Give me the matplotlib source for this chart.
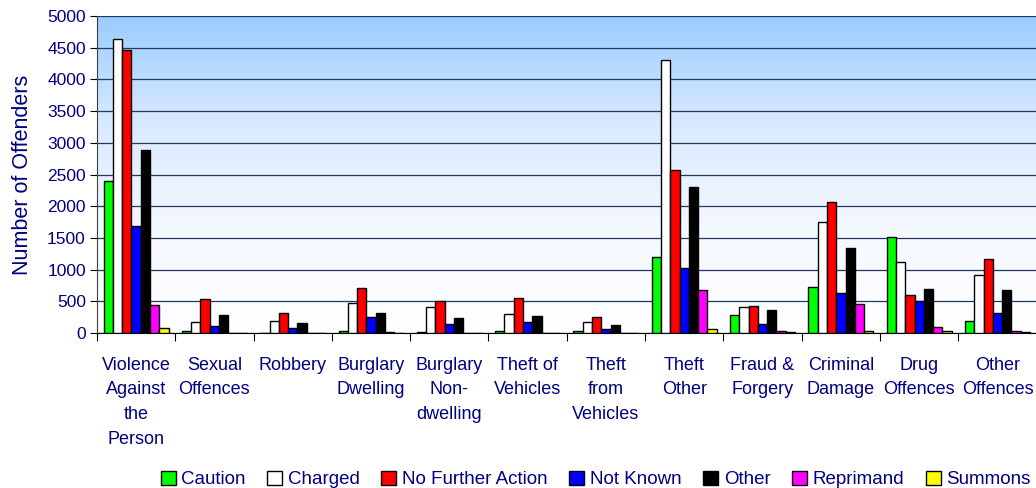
import numpy as np
import matplotlib
matplotlib.use('Agg')
import matplotlib.pyplot as plt
from matplotlib.colors import LinearSegmentedColormap

plt.rcParams['font.family'] = ['Liberation Sans', 'DejaVu Sans']

TEXT_COLOUR = '#000080'
GRID_COLOUR = '#1F3A60'

categories = ["Violence\nAgainst\nthe\nPerson", "Sexual\nOffences", "Robbery",
              "Burglary\nDwelling", "Burglary\nNon-\ndwelling", "Theft of\nVehicles",
              "Theft\nfrom\nVehicles", "Theft\nOther", "Fraud &\nForgery",
              "Criminal\nDamage", "Drug\nOffences", "Other\nOffences"]

series_names = ["Caution", "Charged", "No Further Action", "Not Known",
                "Other", "Reprimand", "Summons"]
series_colours = ['#00FF00', '#FFFFFF', '#FF0000', '#0000FF',
                  '#000000', '#FF00FF', '#FFFF00']

caution = [2390, 35, 0, 32, 20, 32, 25, 1200, 280, 730, 1515, 190]
charged = [4640, 170, 195, 468, 405, 295, 170, 4300, 415, 1750, 1115, 915]
no_further_action = [4460, 540, 310, 710, 505, 557, 247, 2570, 421, 2066, 594, 1167]
not_known = [1685, 110, 74, 247, 137, 169, 58, 1030, 142, 631, 505, 310]
other = [2880, 284, 162, 315, 241, 263, 126, 2300, 363, 1340, 694, 683]
reprimand = [437, 5, 0, 10, 5, 5, 5, 678, 32, 457, 90, 25]
summons = [72, 3, 0, 8, 3, 3, 3, 58, 16, 37, 32, 20]

all_series = [caution, charged, no_further_action, not_known, other, reprimand, summons]

fig = plt.figure(figsize=(10.36, 4.88), dpi=100)
ax = fig.add_axes([0.0936, 0.3176, 0.907, 0.6496])

# gradient background: light blue at the top fading to white
grad = np.linspace(0, 1, 256).reshape(-1, 1)
cmap = LinearSegmentedColormap.from_list('bg', ['#FFFFFF', '#F4F8FF', '#D8E9FF', '#99CCFF'])
ax.imshow(grad, aspect='auto', cmap=cmap, origin='lower',
          extent=[0, len(categories), 0, 5000], zorder=0)

n = len(all_series)
group = 0.83
bw = group / n
x = np.arange(len(categories)) + 0.5
for i, (vals, name, col) in enumerate(zip(all_series, series_names, series_colours)):
    offs = -group / 2 + bw * (i + 0.5)
    ax.bar(x + offs, vals, width=bw, color=col, edgecolor='black',
           linewidth=1.0, label=name, zorder=3)

ax.set_xlim(0, len(categories))
ax.set_ylim(0, 5000)
ax.set_yticks(np.arange(0, 5001, 500))
ax.yaxis.grid(True, color=GRID_COLOUR, linewidth=0.9, zorder=1)
ax.set_axisbelow(True)

ax.set_xticks(np.arange(0, len(categories) + 1))
ax.set_xticklabels([])
ax.set_xticks(x, minor=True)
ax.set_xticklabels(categories, minor=True, fontsize=13, color=TEXT_COLOUR,
                   linespacing=1.6, va='top')
ax.tick_params(axis='x', which='minor', length=0, pad=17)
ax.tick_params(axis='x', which='major', length=6, direction='out', color='black')
ax.tick_params(axis='y', length=5, direction='out', labelsize=12.5,
               labelcolor=TEXT_COLOUR, pad=3)

for s in ['top', 'right']:
    ax.spines[s].set_visible(False)
ax.spines['left'].set_color('#404040')
ax.spines['bottom'].set_color('black')

ax.set_ylabel('Number of Offenders', fontsize=15.5, color=TEXT_COLOUR, labelpad=10)

handles, labels = ax.get_legend_handles_labels()
leg = fig.legend(handles, labels, loc='lower center', ncol=7, frameon=False,
                 bbox_to_anchor=(0.575, -0.035), fontsize=13.5, handlelength=0.8,
                 handleheight=0.8, handletextpad=0.3, columnspacing=1.15)
for t in leg.get_texts():
    t.set_color(TEXT_COLOUR)

fig.savefig('out.png', dpi=100)
